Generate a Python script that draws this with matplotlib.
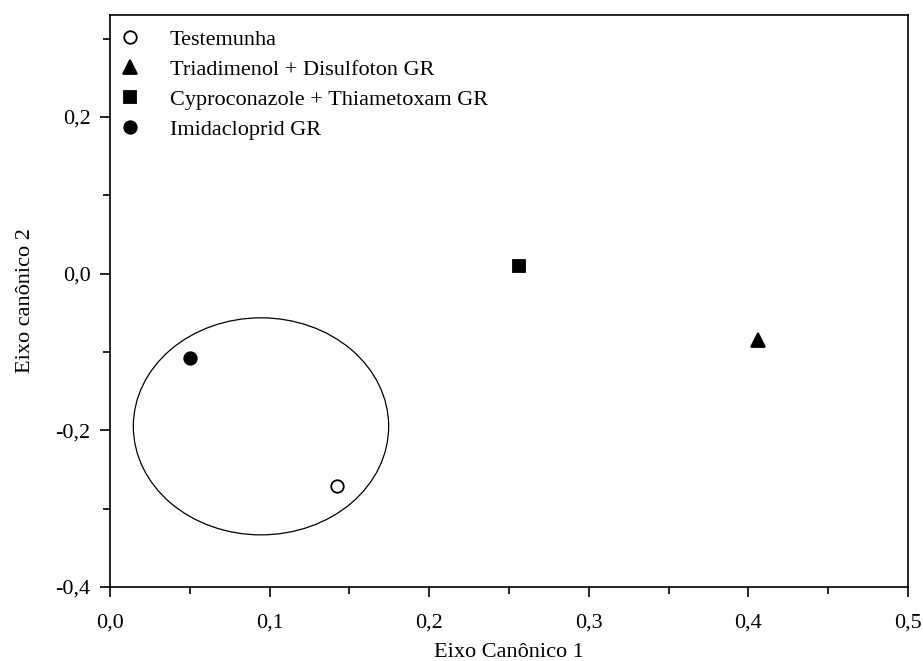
import matplotlib
matplotlib.use("Agg")
import matplotlib.pyplot as plt
from matplotlib.patches import Ellipse
from matplotlib.ticker import MultipleLocator, FuncFormatter

# ============================================================
# Data
# ============================================================

TREATMENTS = [
    "Testemunha",
    "Triadimenol + Disulfoton GR",
    "Cyproconazole + Thiametoxam GR",
    "Imidacloprid GR",
]
AXIS1 = [0.142, 0.406, 0.256, 0.050]
AXIS2 = [-0.271, -0.085, 0.010, -0.108]

MARKERS = ["o", "^", "s", "o"]
FACES = ["white", "black", "black", "black"]

# group ellipse: centre, width, height
ELLIPSE_CENTER = (0.0946, -0.195)
ELLIPSE_WIDTH = 0.160
ELLIPSE_HEIGHT = 0.277


def comma(v, pos):
    return f"{v:.1f}".replace(".", ",")


def main():
    plt.rcParams["font.family"] = ["Liberation Serif", "DejaVu Serif"]
    plt.rcParams["font.size"] = 16

    fig = plt.figure(figsize=(9.23, 6.61), dpi=100)
    ax = fig.add_axes([0.1192, 0.1120, 0.8645, 0.8653])

    for name, x, y, m, fc in zip(TREATMENTS, AXIS1, AXIS2, MARKERS, FACES):
        size = 10 if m == "^" else 9
        ax.plot(x, y, linestyle="none", marker=m, markersize=size,
                markerfacecolor=fc, markeredgecolor="black",
                markeredgewidth=1.3, label=name)

    ax.add_patch(Ellipse(ELLIPSE_CENTER, ELLIPSE_WIDTH, ELLIPSE_HEIGHT,
                         fill=False, edgecolor="black", linewidth=0.9))

    ax.set_xlim(0.0, 0.5)
    ax.set_ylim(-0.4, 0.33)

    ax.xaxis.set_major_locator(MultipleLocator(0.1))
    ax.xaxis.set_minor_locator(MultipleLocator(0.05))
    ax.yaxis.set_major_locator(MultipleLocator(0.2))
    ax.yaxis.set_minor_locator(MultipleLocator(0.1))
    ax.xaxis.set_major_formatter(FuncFormatter(comma))
    ax.yaxis.set_major_formatter(FuncFormatter(comma))

    ax.tick_params(which="both", direction="out", top=False, right=False,
                   width=1.2)
    ax.tick_params(which="major", length=7, labelsize=16)
    ax.tick_params(axis="x", which="major", pad=12)
    ax.tick_params(axis="y", which="major", pad=7)
    ax.tick_params(which="minor", length=5)
    for sp in ax.spines.values():
        sp.set_linewidth(1.2)

    ax.set_xlabel("Eixo Canônico 1", fontsize=16, labelpad=8)
    ax.set_ylabel("Eixo canônico 2", fontsize=16, labelpad=15)

    ax.legend(loc="upper left", frameon=False, fontsize=16,
              handletextpad=1.3, labelspacing=0.42,
              borderaxespad=0.0, handlelength=1.0,
              bbox_to_anchor=(0.0, 0.99))

    fig.savefig("out.png", dpi=100)
    plt.close(fig)


if __name__ == "__main__":
    main()
